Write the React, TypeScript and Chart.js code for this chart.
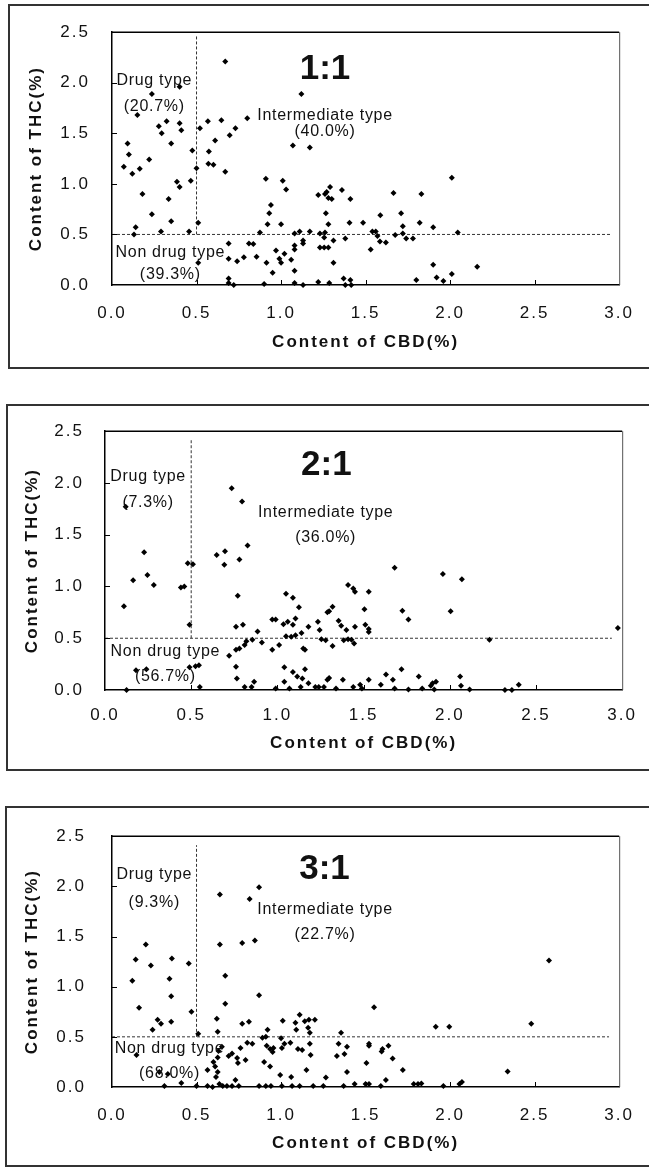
import React, { useEffect, useRef } from 'react';
import { Chart, registerables } from 'chart.js';
Chart.register(...registerables);

// ---------- DATA ----------
const panelTitles = ['1:1', '2:1', '3:1'];
const drugPct = ['(20.7%)', '(7.3%)', '(9.3%)'];
const interPct = ['(40.0%)', '(36.0%)', '(22.7%)'];
const nonPct = ['(39.3%)', '(56.7%)', '(68.0%)'];
const typeNames = ['Drug type', 'Intermediate type', 'Non drug type'];
const xTitle = 'Content of CBD(%)';
const yTitle = 'Content of THC(%)';

// Panel 1 (1:1)
const p1CBD = [0.67, 0.236, 0.40, 1.12, 0.15, 0.277, 0.294, 0.323, 0.40, 0.41, 0.35, 0.092, 0.10, 0.07, 0.12, 0.164, 0.22, 0.475, 0.50, 0.466, 0.384, 0.40, 0.18, 0.335, 0.52, 0.567, 0.647, 0.61, 0.573, 0.696, 0.73, 0.80, 0.57, 0.60, 0.67, 1.07, 1.17, 0.91, 1.01, 1.03, 1.22, 1.26,
  2.01, 1.665, 1.83, 1.29, 1.27, 1.30, 1.36, 1.41, 1.28,
  0.236, 0.35, 0.14, 0.13, 0.29, 0.456, 0.51, 0.51, 0.69, 0.69, 0.74, 0.78, 0.81, 0.836, 0.855, 0.914, 0.95, 0.69, 0.69, 0.72, 0.90, 0.875, 0.92, 0.93, 0.94, 1.0, 0.97, 0.99, 1.0, 1.02, 1.06, 1.08, 1.08, 1.11, 1.17, 1.08, 1.08, 1.13, 1.13, 1.08, 1.13, 1.22, 1.23, 1.26, 1.255, 1.23, 1.255, 1.265,
  1.28, 1.405, 1.485, 1.587, 1.71, 1.72, 1.82, 1.90, 2.045, 1.31, 1.38, 1.28, 1.54, 1.56, 1.57, 1.585, 1.62, 1.675, 1.72, 1.74, 1.78, 1.53, 1.31, 1.90, 2.16, 1.80, 1.92, 1.96, 2.01, 1.285, 1.37, 1.38, 1.41, 1.415];
const p1THC = [2.21, 1.89, 1.96, 1.89, 1.68, 1.57, 1.50, 1.62, 1.60, 1.53, 1.40, 1.40, 1.29, 1.17, 1.10, 1.15, 1.24, 1.33, 1.155, 1.03, 1.02, 0.97, 0.90, 0.85, 1.55, 1.62, 1.63, 1.43, 1.32, 1.48, 1.55, 1.65, 1.20, 1.19, 1.12, 1.38, 1.36, 1.05, 1.03, 0.945, 0.89, 0.90,
  1.06, 0.91, 0.90, 0.97, 0.92, 0.85, 0.94, 0.85, 0.86,
  0.70, 0.63, 0.57, 0.50, 0.53, 0.53, 0.615, 0.22, 0.41, 0.26, 0.235, 0.275, 0.41, 0.405, 0.28, 0.22, 0.12, 0.065, 0.02, 0.0, 0.01, 0.52, 0.60, 0.71, 0.79, 0.60, 0.34, 0.26, 0.22, 0.31, 0.25, 0.14, 0.51, 0.53, 0.53, 0.39, 0.35, 0.44, 0.41, 0.02, 0.0, 0.03, 0.51, 0.52, 0.47, 0.37, 0.37, 0.71,
  0.60, 0.615, 0.615, 0.69, 0.71, 0.58, 0.615, 0.57, 0.52, 0.44, 0.46, 0.37, 0.53, 0.53, 0.485, 0.43, 0.42, 0.495, 0.51, 0.46, 0.46, 0.35, 0.22, 0.20, 0.18, 0.05, 0.075, 0.04, 0.11, 0.02, 0.065, 0.0, 0.05, 0.0];

// Panel 2 (2:1)
const p2CBD = [0.12, 0.735, 0.795, 0.227, 0.163, 0.246, 0.283, 0.48, 0.51, 0.44, 0.46, 0.648, 0.696, 0.692, 0.78, 0.827, 1.68, 1.96, 2.07, 1.41, 1.44,
  0.11, 0.49, 0.77, 1.05, 1.09, 1.125, 1.29, 0.76, 0.80, 0.885, 0.97, 0.99, 1.035, 1.06, 1.09, 1.105, 1.18, 1.235, 1.245, 1.05, 1.08, 1.105, 1.14, 1.255,
  0.72, 0.76, 0.78, 0.81, 0.82, 0.855, 0.91, 0.97, 1.01, 1.15, 1.16, 0.545, 0.49, 0.525, 0.18, 0.24, 0.125, 0.55, 0.76, 0.765, 0.81, 0.85, 0.865, 0.99, 1.04, 1.07, 1.09, 1.115, 1.135, 1.16, 1.145, 1.04, 1.18, 1.22, 1.24, 1.29, 1.27,
  1.45, 1.53, 1.32, 1.30, 1.505, 1.725, 1.76, 2.005, 1.355, 1.37, 1.40, 1.45, 1.51, 1.53, 1.53, 1.28, 1.32, 1.385, 1.41, 1.43, 1.445, 2.23, 2.975,
  1.30, 1.34, 1.38, 1.44, 1.48, 1.49, 1.53, 1.60, 1.63, 1.67, 1.68, 1.72, 1.76, 1.82, 1.84, 1.89, 1.90, 1.92, 1.91, 2.06, 2.065, 2.115, 2.32, 2.36, 2.40];
const p2THC = [1.77, 1.95, 1.82, 1.33, 1.06, 1.11, 1.015, 1.225, 1.215, 0.99, 1.00, 1.305, 1.34, 1.21, 1.26, 1.395, 1.18, 1.12, 1.07, 1.015, 0.98,
  0.81, 0.63, 0.91, 0.93, 0.89, 0.80, 0.75, 0.61, 0.63, 0.565, 0.68, 0.68, 0.635, 0.66, 0.63, 0.69, 0.61, 0.66, 0.58, 0.52, 0.515, 0.53, 0.55, 0.49,
  0.33, 0.39, 0.40, 0.435, 0.47, 0.485, 0.46, 0.39, 0.435, 0.40, 0.39, 0.24, 0.22, 0.23, 0.19, 0.20, 0.0, 0.03, 0.225, 0.11, 0.03, 0.03, 0.08, 0.015, 0.08, 0.015, 0.175, 0.13, 0.03, 0.20, 0.11, 0.22, 0.065, 0.03, 0.03, 0.10, 0.03,
  0.95, 0.95, 0.805, 0.76, 0.78, 0.765, 0.68, 0.76, 0.67, 0.62, 0.58, 0.61, 0.63, 0.59, 0.56, 0.48, 0.425, 0.48, 0.49, 0.485, 0.45, 0.485, 0.60,
  0.115, 0.015, 0.10, 0.03, 0.05, 0.015, 0.10, 0.05, 0.15, 0.10, 0.015, 0.20, 0.005, 0.13, 0.015, 0.04, 0.065, 0.08, 0.005, 0.13, 0.04, 0.005, 0.0, 0.0, 0.05];

// Panel 3 (3:1)
const p3CBD = [0.638, 0.814, 0.87, 0.20, 0.14, 0.23, 0.354, 0.454, 0.638, 0.77, 0.845, 2.585, 0.12, 0.34, 0.67, 0.35, 0.87, 0.16, 0.67, 0.47, 0.27, 0.29, 0.24, 0.35, 0.62, 0.77, 0.81, 0.625, 0.51,
  1.01, 1.085, 1.09, 1.11, 1.14, 1.165, 1.16, 1.17, 1.20, 0.92, 0.91, 0.89, 1.0, 0.145, 0.63, 0.65, 0.28, 0.33, 0.31, 0.41, 0.50, 0.565, 0.595, 0.635, 0.615, 0.625, 0.61, 0.565, 0.60, 0.625, 0.69, 0.71, 0.74, 0.745, 0.79, 0.76, 0.80, 0.83, 0.73, 0.71, 0.75, 0.68, 0.655, 0.87, 0.91, 0.94,
  0.90, 0.935, 0.935, 0.915, 0.95, 0.955, 1.005, 1.02, 1.055, 1.10, 1.125, 1.175, 1.17, 0.995, 1.06, 1.15, 1.265, 1.005, 1.065, 1.11, 1.19, 1.25,
  1.55, 1.915, 1.995, 2.48, 1.355, 1.34, 1.39, 1.375, 1.33, 1.52, 1.52, 1.595, 1.60, 1.635, 1.66, 1.505, 1.39, 1.72, 2.34, 1.37, 1.435, 1.50, 1.52, 1.59, 1.62, 1.785, 1.81, 1.83, 1.96, 2.055, 2.07];
const p3THC = [1.92, 1.875, 1.99, 1.42, 1.27, 1.21, 1.28, 1.23, 1.42, 1.435, 1.46, 1.26, 1.06, 1.08, 1.11, 0.905, 0.915, 0.79, 0.83, 0.75, 0.67, 0.63, 0.57, 0.65, 0.68, 0.63, 0.65, 0.55, 0.53,
  0.66, 0.64, 0.57, 0.72, 0.655, 0.67, 0.59, 0.54, 0.67, 0.57, 0.50, 0.49, 0.485, 0.32, 0.36, 0.40, 0.15, 0.13, 0.01, 0.04, 0.01, 0.01, 0.0, 0.03, 0.10, 0.15, 0.205, 0.17, 0.25, 0.295, 0.31, 0.335, 0.29, 0.24, 0.27, 0.39, 0.44, 0.43, 0.07, 0.01, 0.01, 0.01, 0.01, 0.01, 0.01, 0.01,
  0.25, 0.205, 0.38, 0.41, 0.35, 0.39, 0.39, 0.43, 0.44, 0.38, 0.37, 0.32, 0.43, 0.12, 0.10, 0.17, 0.095, 0.01, 0.01, 0.01, 0.01, 0.01,
  0.795, 0.60, 0.60, 0.63, 0.54, 0.43, 0.40, 0.33, 0.31, 0.43, 0.41, 0.355, 0.38, 0.41, 0.285, 0.24, 0.15, 0.17, 0.155, 0.01, 0.03, 0.03, 0.03, 0.01, 0.07, 0.03, 0.03, 0.035, 0.01, 0.03, 0.05];

// ---------- LAYOUT (positions / styles) ----------
const FONT = '"Liberation Sans", Arial, sans-serif';

const panels = [
  {
    cbd: p1CBD, thc: p1THC, canvasTop: 0, canvasH: 370,
    area: { left: 112, top: 28, right: 625, bottom: 285 },
    yTickPad: 22, xTickPad: 18, yTitlePad: 26, xTitlePad: 17,
    box: { left: 8, top: 4, height: 365 },
    vTop: 2.46, hEnd: 2.95,
    titlePos: [1.26, 2.13],
    drugPos: [0.25, 2.02, 1.76], interPos: [1.26, 1.68, 1.52], nonPos: [0.345, 0.32, 0.10],
  },
  {
    cbd: p2CBD, thc: p2THC, canvasTop: 400, canvasH: 370,
    area: { left: 105, top: 30, right: 625, bottom: 290 },
    yTickPad: 21, xTickPad: 15, yTitlePad: 22, xTitlePad: 16,
    box: { left: 6, top: 404, height: 367 },
    vTop: 2.42, hEnd: 2.94,
    titlePos: [1.284, 2.17],
    drugPos: [0.25, 2.06, 1.81], interPos: [1.28, 1.715, 1.475], nonPos: [0.35, 0.37, 0.13],
  },
  {
    cbd: p3CBD, thc: p3THC, canvasTop: 800, canvasH: 369,
    area: { left: 112, top: 31, right: 623, bottom: 287 },
    yTickPad: 26, xTickPad: 18, yTitlePad: 22, xTitlePad: 15,
    box: { left: 5, top: 806, height: 361 },
    vTop: 2.41, hEnd: 2.94,
    titlePos: [1.257, 2.17],
    drugPos: [0.25, 2.12, 1.84], interPos: [1.26, 1.77, 1.52], nonPos: [0.34, 0.38, 0.13],
  },
];

function Panel({ cfg, idx }: { cfg: any; idx: number }) {
  const ref = useRef<HTMLCanvasElement>(null);
  useEffect(() => {
    const canvas = ref.current!;
    const pts = cfg.cbd.map((x: number, i: number) => ({ x, y: cfg.thc[i] }));

    const decor = {
      id: 'decor' + idx,
      beforeDraw(chart: any) {
        chart.ctx.letterSpacing = '2px';
      },
      afterDatasetsDraw(chart: any) {
        const { ctx, chartArea: a, scales } = chart;
        const xs = scales.x, ys = scales.y;
        ctx.save();
        ctx.letterSpacing = '0px';
        // top border
        ctx.strokeStyle = '#000';
        ctx.lineWidth = 1.5;
        ctx.beginPath();
        ctx.moveTo(a.left, a.top);
        ctx.lineTo(a.right, a.top);
        ctx.stroke();
        // right border
        ctx.strokeStyle = '#555';
        ctx.lineWidth = 1;
        ctx.beginPath();
        ctx.moveTo(a.right + 0.5, a.top);
        ctx.lineTo(a.right + 0.5, a.bottom);
        ctx.stroke();
        // inward tick marks
        ctx.strokeStyle = '#000';
        [0.5, 1, 1.5, 2, 2.5].forEach((v) => {
          const px = Math.round(xs.getPixelForValue(v)) + 0.5;
          ctx.beginPath();
          ctx.moveTo(px, a.bottom);
          ctx.lineTo(px, a.bottom - 5);
          ctx.stroke();
        });
        [0.5, 1, 1.5, 2].forEach((v) => {
          const py = Math.round(ys.getPixelForValue(v)) + 0.5;
          ctx.beginPath();
          ctx.moveTo(a.left, py);
          ctx.lineTo(a.left + 5, py);
          ctx.stroke();
        });
        // texts
        ctx.fillStyle = '#111';
        ctx.textAlign = 'center';
        ctx.textBaseline = 'middle';
        ctx.font = 'bold 35px ' + FONT;
        ctx.fillText(panelTitles[idx], xs.getPixelForValue(cfg.titlePos[0]), ys.getPixelForValue(cfg.titlePos[1]));
        ctx.font = '16px ' + FONT;
        ctx.letterSpacing = '0.7px';
        const put = (p: number[], name: string, pct: string) => {
          const x = xs.getPixelForValue(p[0]);
          ctx.fillText(name, x, ys.getPixelForValue(p[1]));
          ctx.fillText(pct, x, ys.getPixelForValue(p[2]));
        };
        put(cfg.drugPos, typeNames[0], drugPct[idx]);
        put(cfg.interPos, typeNames[1], interPct[idx]);
        put(cfg.nonPos, typeNames[2], nonPct[idx]);
        ctx.restore();
      },
    };

    const dash = { borderColor: '#333', borderWidth: 1, borderDash: [3, 2], pointRadius: 0, showLine: true, fill: false, order: 2 };

    const chart = new Chart(canvas, {
      type: 'scatter',
      data: {
        datasets: [
          {
            data: pts,
            pointStyle: 'rectRot',
            pointRadius: 3,
            backgroundColor: '#000',
            borderColor: '#000',
            borderWidth: 0,
            clip: false,
            order: 0,
          } as any,
          { ...dash, data: [{ x: 0.5, y: 0.5 }, { x: 0.5, y: cfg.vTop }] } as any,
          { ...dash, data: [{ x: 0, y: 0.5 }, { x: cfg.hEnd, y: 0.5 }] } as any,
        ],
      },
      options: {
        responsive: false,
        animation: false,
        events: [],
        layout: { padding: { top: cfg.area.top, right: 649 - cfg.area.right, left: 0, bottom: 0 } },
        plugins: { legend: { display: false }, tooltip: { enabled: false } },
        scales: {
          x: {
            type: 'linear',
            position: 'bottom',
            min: 0,
            max: 3,
            afterFit: (s: any) => { s.height = cfg.canvasH - cfg.area.bottom; },
            grid: { display: false, drawTicks: false },
            border: { display: true, color: '#000', width: 1.5 },
            ticks: {
              stepSize: 0.5,
              padding: cfg.xTickPad,
              autoSkip: false,
              maxRotation: 0,
              color: '#111',
              font: { size: 17, family: FONT },
              callback: (v: any) => Number(v).toFixed(1),
            },
            title: { display: true, text: xTitle, color: '#111', font: { size: 17, weight: 'bold', family: FONT }, padding: { top: 0, bottom: cfg.xTitlePad } },
          },
          y: {
            type: 'linear',
            position: 'left',
            min: 0,
            max: 2.5,
            afterFit: (s: any) => { s.width = cfg.area.left; },
            grid: { display: false, drawTicks: false },
            border: { display: true, color: '#000', width: 1.5 },
            ticks: {
              stepSize: 0.5,
              padding: cfg.yTickPad,
              color: '#111',
              font: { size: 17, family: FONT },
              callback: (v: any) => Number(v).toFixed(1),
            },
            title: { display: true, text: yTitle, color: '#111', font: { size: 17, weight: 'bold', family: FONT }, padding: { top: cfg.yTitlePad, bottom: 0 } },
          },
        },
      } as any,
      plugins: [decor],
    });
    return () => chart.destroy();
  }, []);

  return (
    <canvas
      ref={ref}
      width={649}
      height={cfg.canvasH}
      style={{ position: 'absolute', left: 0, top: cfg.canvasTop, width: 649, height: cfg.canvasH, display: 'block' }}
    />
  );
}

export default function App() {
  return (
    <div style={{ position: 'absolute', left: 0, top: 0, width: 649, height: 1169, overflow: 'hidden', background: '#fff' }}>
      {panels.map((p, i) => (
        <div
          key={'b' + i}
          style={{
            position: 'absolute',
            left: p.box.left,
            top: p.box.top,
            width: 700,
            height: p.box.height,
            border: '2px solid #333',
            boxSizing: 'border-box',
          }}
        />
      ))}
      {panels.map((p, i) => (
        <Panel key={'p' + i} cfg={p} idx={i} />
      ))}
    </div>
  );
}
